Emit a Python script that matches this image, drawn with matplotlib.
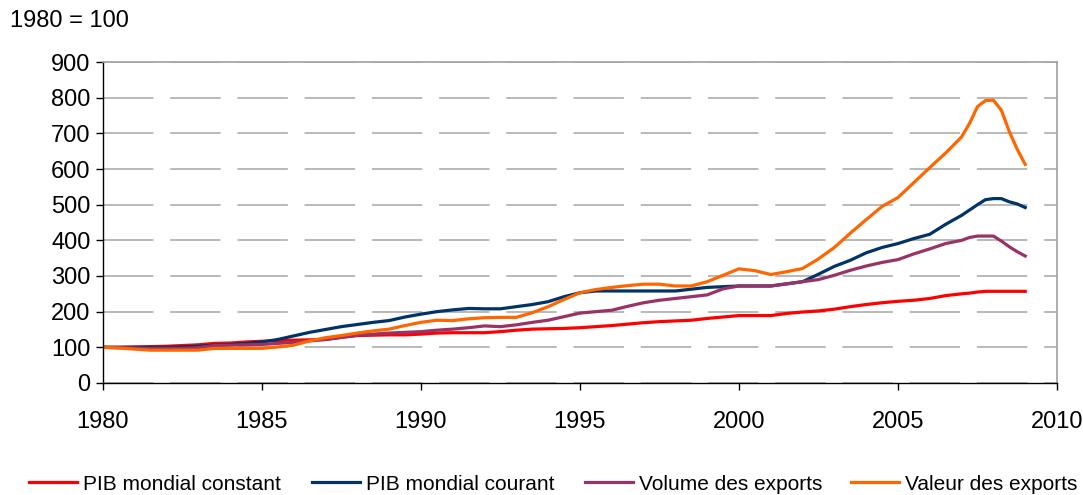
import matplotlib
matplotlib.use("Agg")
import matplotlib.pyplot as plt

years = [1980, 1980.5, 1981, 1981.5, 1982, 1982.5, 1983, 1983.5, 1984, 1984.5,
         1985, 1985.5, 1986, 1986.5, 1987, 1987.5, 1988, 1988.5, 1989, 1989.5,
         1990, 1990.5, 1991, 1991.5, 1992, 1992.5, 1993, 1993.5, 1994, 1994.5,
         1995, 1995.5, 1996, 1996.5, 1997, 1997.5, 1998, 1998.5, 1999, 1999.5,
         2000, 2000.5, 2001, 2001.5, 2002, 2002.5, 2003, 2003.5, 2004, 2004.5,
         2005, 2005.5, 2006, 2006.5, 2007, 2007.25, 2007.5, 2007.75, 2008,
         2008.25, 2008.5, 2008.75, 2009]

pib_constant = [100, 100, 101, 102, 103, 105, 107, 111, 112, 115,
                117, 119, 120, 121, 122, 128, 133, 134, 135, 135,
                137, 140, 141, 141, 141, 144, 148, 151, 152, 153,
                155, 158, 161, 165, 169, 172, 174, 176, 181, 185,
                189, 189, 189, 195, 199, 202, 207, 214, 220, 225,
                229, 232, 237, 245, 250, 252, 255, 257, 257,
                257, 257, 257, 257]

pib_courant = [100, 100, 100, 100, 100, 101, 103, 106, 108, 111,
               115, 122, 132, 142, 150, 158, 164, 170, 175, 185,
               193, 200, 205, 209, 208, 208, 214, 220, 228, 242,
               253, 258, 258, 258, 258, 258, 258, 263, 268, 270,
               272, 272, 272, 278, 284, 305, 327, 344, 365, 380,
               391, 405, 417, 445, 470, 485, 500, 514, 517,
               517, 508, 502, 492]

volume_exports = [100, 99, 98, 97, 97, 97, 99, 105, 106, 107,
                  108, 111, 114, 118, 122, 128, 134, 137, 140, 142,
                  144, 148, 151, 155, 160, 158, 163, 170, 176, 186,
                  196, 200, 204, 215, 225, 232, 237, 242, 247, 264,
                  272, 272, 272, 278, 284, 290, 302, 316, 328, 338,
                  346, 362, 376, 391, 400, 408, 412, 412, 412,
                  398, 382, 368, 356]

valeur_exports = [100, 98, 95, 92, 92, 92, 92, 97, 97, 97,
                  97, 101, 106, 118, 127, 133, 140, 146, 151, 161,
                  170, 176, 175, 180, 183, 184, 184, 197, 214, 234,
                  253, 262, 268, 273, 277, 277, 272, 272, 284, 302,
                  320, 315, 304, 312, 321, 348, 380, 420, 458, 495,
                  520, 562, 604, 645, 690, 728, 775, 792, 793,
                  765, 705, 655, 613]

series_names = ["PIB mondial constant", "PIB mondial courant",
                "Volume des exports", "Valeur des exports"]
series_colors = ["#FF0000", "#003366", "#993366", "#FF6600"]

plt.rcParams['font.family'] = ['Liberation Sans', 'DejaVu Sans']

fig = plt.figure(figsize=(10.83, 4.95), dpi=100)
ax = fig.add_axes([0.095, 0.2263, 0.881, 0.6484])

lines = []
for vals, name, col in zip([pib_constant, pib_courant, volume_exports, valeur_exports],
                           series_names, series_colors):
    ln, = ax.plot(years, vals, color=col, lw=2.3, label=name, solid_joinstyle='round')
    lines.append(ln)

ax.set_xlim(1980, 2010)
ax.set_ylim(0, 900)
ax.set_xticks(range(1980, 2011, 5))
ax.set_yticks(range(0, 901, 100))
ax.yaxis.grid(True, color='#A6A6A6', lw=1.1, linestyle=(0, (33, 11)))
ax.set_axisbelow(True)

for s in ['top', 'right']:
    ax.spines[s].set_color('#A0A0A0')
    ax.spines[s].set_linewidth(1.2)
for s in ['left', 'bottom']:
    ax.spines[s].set_color('black')
    ax.spines[s].set_linewidth(1.0)

ax.tick_params(axis='both', direction='out', length=5, width=1, labelsize=17, colors='black')
ax.tick_params(axis='x', pad=15)
ax.tick_params(axis='y', pad=4)

fig.text(0.009, 0.957, "1980 = 100", fontsize=17, va='center', ha='left')

legend_x = [0.027, 0.288, 0.540, 0.786]
for ln, x in zip(lines, legend_x):
    fig.legend(handles=[ln], loc='center left', bbox_to_anchor=(x, 0.022),
               frameon=False, fontsize=15, handlelength=2.3, handletextpad=0.3,
               borderaxespad=0, borderpad=0)

fig.savefig("out.png", dpi=100)
